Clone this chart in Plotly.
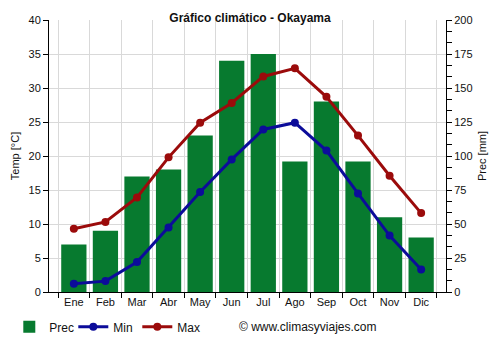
import plotly.graph_objects as go

# Monthly climate data for Okayama
months = ["Ene", "Feb", "Mar", "Abr", "May", "Jun", "Jul", "Ago", "Sep", "Oct", "Nov", "Dic"]
prec_mm = [35, 45, 85, 90, 115, 170, 175, 96, 140, 96, 55, 40]
temp_min = [1.2, 1.6, 4.4, 9.5, 14.7, 19.5, 23.9, 24.9, 20.8, 14.5, 8.3, 3.3]
temp_max = [9.3, 10.3, 13.9, 19.8, 24.9, 27.8, 31.7, 32.9, 28.7, 23.0, 17.1, 11.6]

font_family = "Liberation Sans, Arial, sans-serif"
green = "#077a2f"
blue = "#0c0c9a"
red = "#9b0b0b"

fig = go.Figure()

# Precipitation bars on the base (right-hand) axis so the lines draw above them
fig.add_trace(go.Bar(
    x=months, y=prec_mm, name="Prec", yaxis="y",
    marker=dict(color=green, line=dict(width=0)),
))
fig.add_trace(go.Scatter(
    x=months, y=temp_min, name="Min", mode="lines+markers", yaxis="y2",
    line=dict(color=blue, width=3), marker=dict(size=8, color=blue),
))
fig.add_trace(go.Scatter(
    x=months, y=temp_max, name="Max", mode="lines+markers", yaxis="y2",
    line=dict(color=red, width=3), marker=dict(size=8, color=red),
))

fig.update_layout(
    width=500, height=350,
    margin=dict(l=49, r=54, t=20, b=58, autoexpand=False),
    paper_bgcolor="white", plot_bgcolor="white",
    font=dict(family=font_family, size=11, color="#111"),
    bargap=0.2,
    showlegend=True,
    title=dict(
        text="<b>Gráfico climático - Okayama</b>",
        x=0.5, xanchor="center", y=0.95, yanchor="middle",
        font=dict(size=12, color="#111"),
    ),
    xaxis=dict(
        type="category",
        showline=True, linecolor="black", linewidth=1,
        ticks="outside", tickson="boundaries", ticklen=5, tickcolor="black",
        showgrid=True, gridcolor="#d9d9d9",
        automargin=False,
    ),
    yaxis=dict(
        range=[0, 200], dtick=25, side="right",
        title=dict(text="Prec [mm]", font=dict(size=11), standoff=6),
        showline=True, linecolor="black", linewidth=1,
        ticks="outside", ticklen=5, tickcolor="black",
        minor=dict(dtick=25 / 3, ticks="outside", ticklen=5, tickcolor="black"),
        showgrid=False, zeroline=False, automargin=False,
    ),
    yaxis2=dict(
        range=[0, 40], dtick=5, side="left", overlaying="y",
        title=dict(text="Temp [°C]", font=dict(size=11), standoff=6),
        showline=True, linecolor="black", linewidth=1,
        ticks="outside", ticklen=5, tickcolor="black",
        showgrid=True, gridcolor="#d9d9d9",
        zeroline=False, automargin=False,
    ),
    legend=dict(
        orientation="h", x=-0.1, y=-0.128, xanchor="left", yanchor="middle",
        xref="paper", yref="paper",
        font=dict(size=12), itemwidth=30, tracegroupgap=0,
        entrywidth=19, entrywidthmode="pixels",
        traceorder="normal",
    ),
    annotations=[dict(
        text="© www.climasyviajes.com", showarrow=False,
        xref="paper", yref="paper", x=0.474, y=-0.128,
        xanchor="left", yanchor="middle",
        font=dict(size=12, color="#111"),
    )],
)

fig.write_html("out.html")
